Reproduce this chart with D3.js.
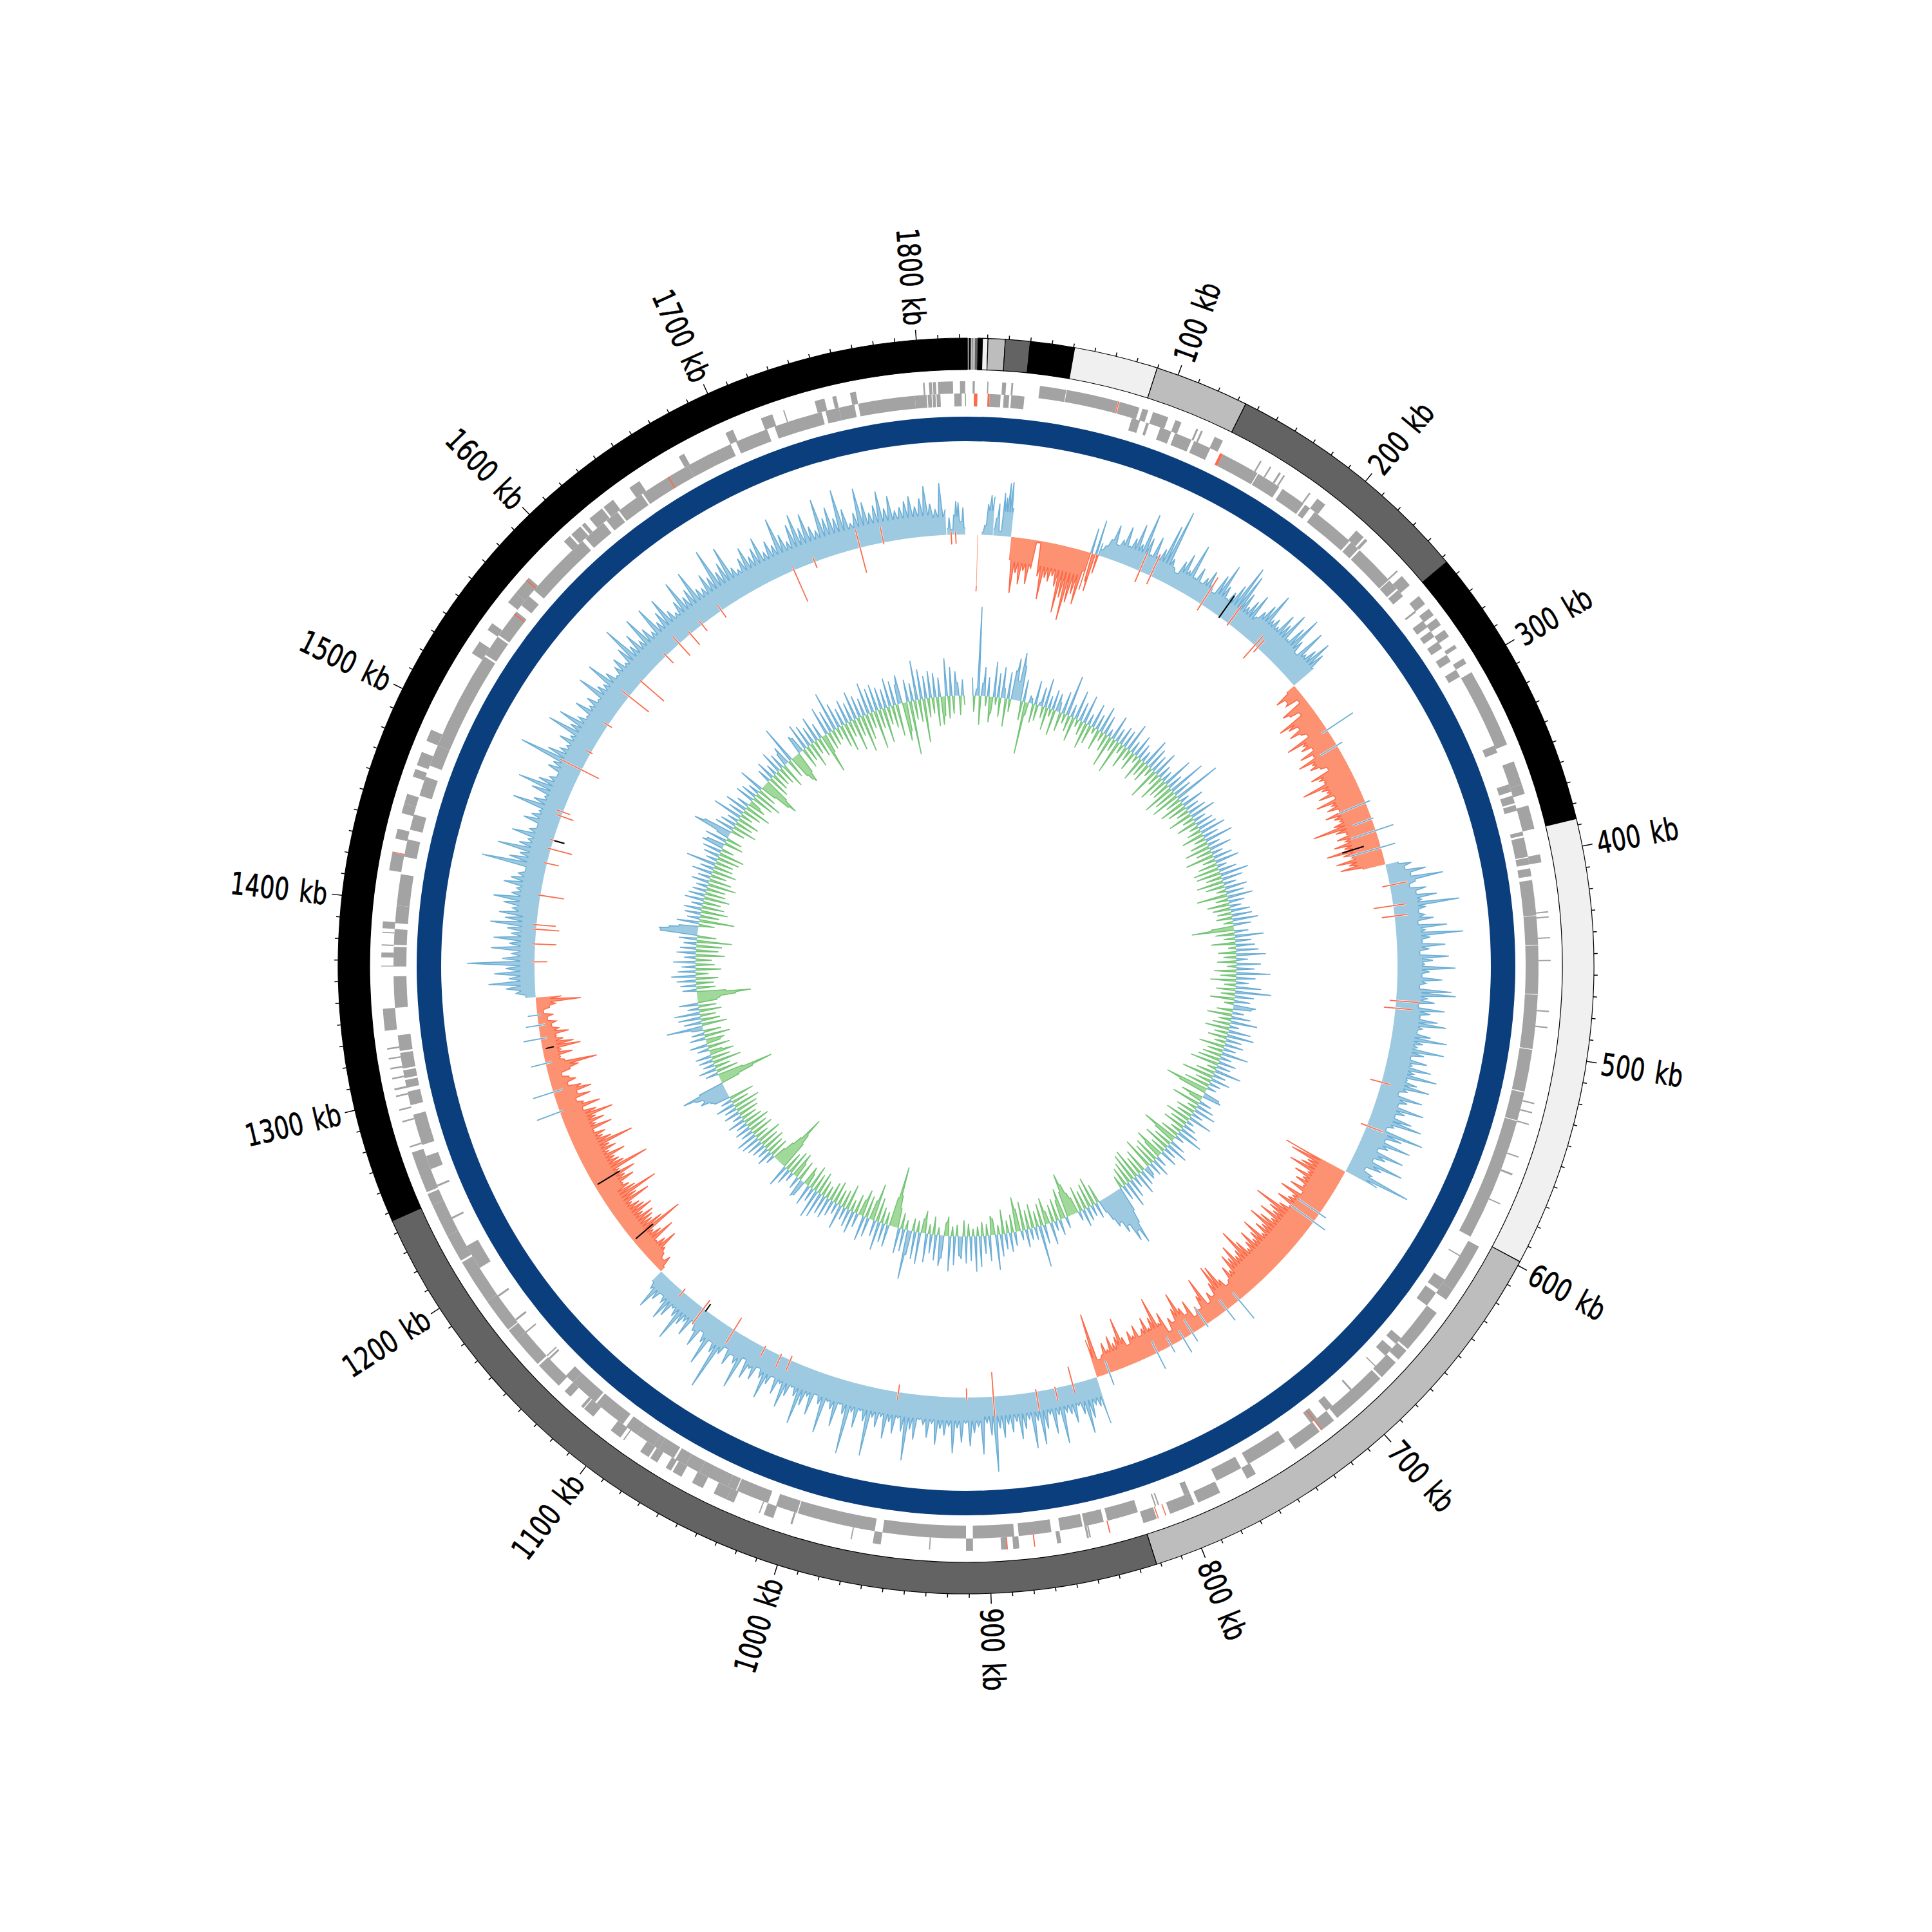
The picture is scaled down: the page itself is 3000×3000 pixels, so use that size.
<!DOCTYPE html>
<html><head><meta charset="utf-8">
<script src="https://cdnjs.cloudflare.com/ajax/libs/d3/7.8.5/d3.min.js"></script>
<style>html,body{margin:0;padding:0;background:#fff}svg{display:block}</style>
</head><body><svg id="c" width="3000" height="3000"></svg>
<script>
const genomeKb = 1823;
const tickLabels = ["100 kb","200 kb","300 kb","400 kb","500 kb","600 kb","700 kb","800 kb","900 kb","1000 kb","1100 kb","1200 kb","1300 kb","1400 kb","1500 kb","1600 kb","1700 kb","1800 kb"];
const contigStart = [0.5,0.7,1.0,1.3,2.3,3.0,3.2,4.2,5.6,7.65,10.2,18.2,29.8,50.5,89.8,134,253,387,598,822,1246];
const contigEnd   = [0.7,1.0,1.3,2.3,3.0,3.2,4.2,5.6,7.65,10.2,18.2,29.8,50.5,89.8,134,253,387,598,822,1246,1823.5];
const contigTone  = ["#f0f0f0","#000000","#bdbdbd","#000000","#bdbdbd","#000000","#bdbdbd","#636363","#000000","#f0f0f0","#bdbdbd","#636363","#000000","#f0f0f0","#bdbdbd","#636363","#000000","#f0f0f0","#bdbdbd","#636363","#000000"];

const genesInner = [[12,17.6],[19.2,22],[23,29.7],[85.3,89.7],[93,94.4],[100.5,106.5],[108.5,117.5],[119,128],[135,155],[155.5,168],[170,183],[184,187],[190,213],[214,219],[220,241],[241.5,247],[248,252],[261.5,262.5],[268,272],[274.5,278],[281,285],[289,293],[298,302],[341,345],[362,366],[368,372],[373,376],[387,389],[390,400],[400.5,404],[406,410],[412,430],[430.3,445],[445.3,470],[470.4,498],[498.4,520],[520.5,535],[535.4,598.6],[609.4,610],[624,630],[632,640],[661,665],[668,673],[680,680.6],[697,698],[710,714],[720,724],[740,762],[766,780],[795,798],[811.6,812.3],[813.2,813.9],[823,839],[841,851],[852,863.5],[868,884.7],[887,908],[911.5,954],[958,998],[998.5,1009.7],[1014,1031],[1031.5,1036],[1036,1052],[1052,1060],[1060,1066],[1067,1076],[1076,1079],[1079,1089],[1089,1096],[1098,1115],[1116,1131],[1131,1136],[1147.5,1148.5],[1149.5,1150.2],[1165.5,1166.3],[1173.5,1174.5],[1188.5,1189.5],[1206,1219],[1234.5,1235.5],[1252.5,1253.5],[1262,1269],[1275,1291],[1296,1303],[1305,1309],[1310,1314],[1315,1323],[1324,1332],[1346,1362],[1367,1377],[1378,1386],[1389,1398],[1398,1414],[1423,1432],[1437,1445],[1455,1465],[1471,1482],[1482,1533],[1534,1545],[1546,1561],[1565,1571],[1575,1606],[1605,1610],[1612,1624],[1626,1633],[1634,1648],[1649,1676],[1676,1700],[1703,1720],[1724,1749],[1751,1758],[1758,1766],[1768,1797],[1797,1803],[1803.5,1805.5],[1806,1807.5],[1808,1810],[1817,1820.8],[1822.5,1823]];
const genesOuter = [[3.3,4.4],[10.6,11.2],[18,20],[22.6,23.5],[36.8,50],[50.3,76.3],[77.2,87.4],[89,92],[94.5,102.5],[106.3,109.5],[117.5,118.5],[120,121],[127.5,132],[153,153.8],[158.6,159.4],[164,165],[166.6,167.4],[182,182.8],[187,192],[212,217],[218,219.5],[240.2,241],[244,250],[257,262],[265,269],[271,275],[278,282],[287,289],[295,298],[303,343],[352,364],[364,369],[375,387],[400,404],[428.5,429.2],[431,431.7],[441.4,442],[452.7,453.3],[478,478.7],[486,486.7],[524.3,525],[529,529.7],[535,535.7],[552,552.7],[561,562],[577,577.6],[601,626],[626,632],[640,663],[664,670],[672,682],[683,712],[714,722],[723,738],[761,766],[781,793],[795,808],[815,822],[849,849.7],[850,851],[864,866],[885,888],[891,894],[908,911.5],[929.3,929.9],[954,958],[968.6,969.2],[999,1000],[1009,1014],[1016,1016.6],[1030,1034],[1034,1041],[1047,1053],[1059,1064],[1065,1068],[1073,1077],[1078,1083],[1092.7,1093.3],[1095,1101],[1112,1118],[1118.5,1120],[1127,1131],[1135,1149],[1150,1166],[1166,1172],[1172.5,1190],[1190,1213],[1214,1228],[1228,1245],[1245,1251],[1252,1266],[1265,1273],[1275.6,1276.4],[1288.6,1289.4],[1294.6,1295.4],[1301.6,1302.4],[1305,1306],[1310.6,1311.4],[1315.6,1316.4],[1320.6,1321.4],[1325.6,1326.4],[1335,1346],[1367,1367.4],[1371.6,1374],[1377.4,1378],[1383.7,1384.3],[1386,1389.5],[1415,1424],[1431,1436],[1444,1449],[1449,1454],[1463,1467],[1469,1476],[1482,1488],[1531,1538],[1545,1549],[1562,1568],[1568,1578],[1603,1607],[1608,1614],[1615,1617],[1620,1628],[1629,1635],[1645,1651],[1674,1677],[1700,1704],[1719,1725],[1730.7,1731.3],[1747,1752],[1756,1758],[1765,1768],[1801.6,1802.4],[1804.5,1806],[1806.5,1808],[1809,1816.5],[1820,1822.6]];
const rnaInner = [[4,5.8],[11,12],[133.5,135],[721.5,722],[1559,1559.6],[1664,1664.6]];
const rnaOuter = [[76.4,77],[721.5,722],[810,810.5],[814,814.5],[839,839.6],[877,877.6],[890.7,891.2],[1424,1424.4],[1576,1576.6]];

const skewOrigin = [-88,-80];
const skewA = [4,15,48,62,60];
const skewB = [10,27,50,7,67,60,83,85,45];
const skewC = [-35,-87,-55,-72,-50,-70,-45,-3,-55,-90,-55,-60,-50,-65,-105,-80,-115,-85,-70,-85,-30];
const skewD = [-60,40,-45,-60,55,-30,20];
const skewE = [10,18,30,55,25,35,59,30,45,70,40,92,55,30,62,35,48,90,117,40,28,22,45,60,35,82,30,50,28,40,55,38,25,59,81,48,30,45,62,99,88,60,40,55,70,35,50,66,90,48,55,45,73,60,85,42,70,93,55,35,84,45,60,81,64,40];
const skewF = [-15,-40,-25,-30,-10,-45,-35,-20,-63,-50,-35,-55,-38,-30,-70,-45,-52,-35,-60,-40,-69,-48,-55,-40,-30,-62,-50,-45,-84,-55,-48,-65,-40,-73,-50,-60,-42,-67,-55,-48,-60,-95,-60,-45,-62,-50,-70,-55,-85,-60,-48,-74,-55,-70,-35];
const skewG = [20,40,28,60,35,85,40,30,55,38,70,45,103,50,38,47,60,35,80,45,104,52,40,75,50,35,80,55,42,90,50,38,70,45,35,85,92,48,60,35,77,55,40,68,82,45,38,60,87,50,42,85,55,35,62,40,71,45,83,38,55,76,42,30,70,48,35,78,50,36,65,83,40,30,92,60,35,79,45,30,75,48,30,82,50,25,40,105,55];
const skewH = [-104,-91,-60,-68,-85,-50,-70,-53,-62,-45,-65,-40,-75,-50,-55,-70,-45,-60,-99,-70,-60,-80,-55,-72,-87,-60,-68,-50,-83,-65,-55,-75,-60,-50,-70,-94,-62,-55,-78,-60,-69,-45,-55,-35,-30,-45,-72,-76,-50,-30,-40,-25,-72,-45,-25,-32,-20,-50,-30,-45,-73,-50,-30,-40,-20,-55,-40,-85,-55,-40,-60,-45,-35,-55,-40,-50,-30,-45,-78,-50,-40,-55,-35,-48,-30,-25,-100,-60];
const skewI = [75,45,40,60,82,50,35,60,45,40,88,42,70,38,60,83,45,87,40,55,70,42,58,45,65,50,117,60,40,89,45,55,76,40,70,48,87,45,60,50,75,42,65,45,38,70,55,104,60,40,65,48,75,42,60,45,108,55,40,68,45,113,52,38,75,50,40,92,48,35,70,42,60,92,50,38,55,76,40,60,35,50,76,45,32,55,40,60,30,83,45,35,55,30,45,108,50,35,79,45,30,60,38,28,55,35,45,77,40,30,50,60,35,25,40,60,30,20];
const skewJ = [-8,-25,-15,-23,-30,-56,-40,-28,-64,-45,-35,-90,-60,-45,-50,-55,-40,-60,-50,-45,-35,-69,-50,-89,-55,-48,-40,-62,-50,-70,-45,-98,-60,-55,-50,-70,-45,-60,-52,-93,-60,-48,-55,-38,-70,-45,-62,-50,-80,-55,-35,-65,-40,-30,-55,-35,-60,-45,-25,-40,-30,-20,-35,-50,-80,-30,-25,-45,-28,-60,-50,-35,-25,-45,-30,-20,-28,-15,-25,-10,-20,-30,-70,-40];
const skewK = [15,30,45,72,40,63,45,105,50,35,68,40,65,38,45,72,50,60,40,55,72,45,38,60,50,40,30,101,60,45,82,50,38,66,40,30,55,45,35,81,50,35,60,85,55,40,30,50,45,104,62,45,38,55,40,83,50,74,45,35,60,40,50,35,76,48,42,77,50,35,45,55,38,60,92,50,65,45,81,55,42,80,48,60,78,50,40,55,84,52,60,85,50,45,65,55,97,55,65,87,48,40,55,69,50,60,73,45,60,50,90,60,45,70,83,58,78,55,45,93,60,75,55,98,65,40,55,92,68,50,60,80,52,70,45,50,58,65,48,60,78,50,40,81,40];
const skewL = [10,27,8,30,52,50,20,42,10];
const skewRunStart = [7.7,10.5,18.3,30.5,84.5,91,250.7,387,600,822.3,1139.3,1346.3,1810.5];
const skewRunEnd   = [8.1,18,30.3,84.5,91,250.5,386.7,599.5,822,1139,1346,1809.8,1822.5];
const skewRuns = [skewOrigin,skewA,skewB,skewC,skewD,skewE,skewF,skewG,skewH,skewI,skewJ,skewK,skewL];
// solid band thickness per 100 kb
const skewBandDepth = [38,28,38,42,38,35,42,35,30,36,35,25,36,22,30,32,32,32,28];

const notchesOrange = [[120,31,-19],[128,37,-14],[167,49,-11],[189.5,34,-4],[212.6,20,-27],[215,16,-9],[401,28,-12],[415,20,-31],[422,20,-20],[479,37,-10],[484,26,-18],[534.8,15,-18],[565.6,28,-10],[839,14,-28],[851,20,-2],[864,30,-4],[893,32,-38],[911,5,-14],[957,12,-12],[1033,18,-7],[1040,20,-3],[1052,15,-3],[1076,25,-22],[1101,30,-16],[1119,10,-6],[1370,5,-20],[1382,5,-33],[1392,5,-36],[1395,5,-30],[1415,3,-37],[1437,5,-19],[1447,5,-34],[1453,5,-18],[1470,8,-20],[1473,10,-12],[1504,37,-30],[1517,8,-3],[1539,8,-7],[1563,15,-39],[1576,3,-46],[1600,5,-16],[1612,15,-25],[1622,5,-22],[1632,8,-13],[1648,10,-13],[1704,5,-53],[1719,8,-10],[1751,29,-40],[1767,25,-3],[1813,5,-15],[1816,5,-14]];
const notchesBlue = [[287.6,48,-10],[300,10,-30],[343,8,-45],[354.6,3,-31],[363,29,-40],[374.9,23,-50],[633,12,-40],[639.7,22,-45],[712.6,37,-15],[723,21,-20],[740,5,-30],[751,15,-25],[758,25,-15],[767.6,12,-15],[778,28,-20],[813,20,-20],[1267,38,-6],[1281,33,-15],[1301,23,-10],[1318,27,-10],[1327,20,-10],[1334,15,-5]];
const notchesBlack = [[182,40,-2],[371,-25,-60],[1099,2,-12],[1167,-5,-40],[1212,-5,-45],[1311,-5,-18],[1453,-2,-18]];

const gcA = [28,-25,10,138,-45,20,45,-15,30,-40,-25,55,-12,38,-30,48,15,-44,42,-20,45,65,30,75,55,-30,35,-82,-20,12,8,-30,38,-25,5,30,-18,46,-35,20,-12,32,-40,28];
const gcB = [15,-30,35,-15,64,-25,20,-38,46,-12,30,-22,45,-41,18,-30,38,-10,25,-33,42,-15,30,-28,12,-50,39,-20,22,-53,30,-15,28,-35,45,-18,20,-30,35,-12];
const gcC = [25,-38,18,-25,45,-30,35,-15,28,-50,40,-20,22,-42,18,-30,49,-28,25,-50,60,-35,30,-45,75,-25,15,-40,35,-31,22,-20,30,-38,41,-18,20,-32,28,-15];
const gcD = [30,-22,41,-35,25,-18,45,-28,20,-40,35,-25,18,-45,30,-20,38,-30,15,-40,28,-38,45,-25,33,-42,20,-30,35,-15,28,-48,40,-20,25,-35,18,-28,30,-22];
const gcE = [32,-25,40,-15,28,-35,-66,22,-30,45,-18,25,-38,30,-12,35,-28,46,-20,18,-30,38,-15,28,-35,53,-25,30,-40,20,-18,40,-30,56,-22,30,-38,25,-15,35];
const gcF = [28,-25,18,-39,30,-20,42,-28,15,-38,35,-22,42,-30,25,-18,30,-40,20,-25,42,-30,18,-35,28,-45,22,-15,42,-30,20,-50,30,-25,18,-40,15,-68,-45,25];
const gcG = [30,-35,-20,20,-45,28,-15,35,-30,18,-25,38,-40,12,-28,20,-35,30,-18,42,-30,15,-58,-35,25,-30,35,-42,20,-25,28,-48,-30,18,-40,30,-35,22,-50,15];
const gcH = [20,-38,25,-30,35,-48,18,-45,30,-35,42,-30,25,-20,40,60,93,70,85,55,65,45,50,35,20,-30,25,-45,18,-38,22,-30,28,-40,15,-25,-35,-50,-69,-40];
const gcI = [18,-48,-30,25,-35,15,-28,35,-20,-42,30,-35,65,-25,20,-38,18,-30,28,-45,15,-35,-54,22,-28,30,-20,25,-38,35,-15,55,-25,-30,40,-18,28,-22,48,-15];
const gcJ = [55,-12,38,-20,42,-25,35,30,-18,45,-15,55,-30,-20,35,48,-12,40,-28,30,-15,45,-35,-22,50,-18,43,-20,38,77,-15,35,-25,40,-30,-50,-95,-45,35,-20];
const gcK = [30,-25,45,-38,25,-58,-30,30,-35,39,-42,-25,22,-30,35,-18,28,-40,20,-28,39,-25,18,-35,25,-30,33,-20,30,-25,40,-35,45,-28,22,-38,33,-20,-30,25];
const gcL = [28,-32,20,-25,-40,15,-38,25,-30,35,-45,-60,-88,-50,-35,-20,15,-30,25,-28,18,-35,22,-30,25,-40,30,-22,33,-35,20,-30,25,-38,18,-30,28,-25,15,-32];
const gcM = [25,-35,20,-42,30,-28,18,-40,25,30,45,38,50,69,40,-30,-55,-88,-40,20,-35,28,-25,18,-45,22,-30,25,-38,-20,18,-35,28,-22,-30,25,-40,20,-28,18];
const gcN = [57,-40,28,-30,35,-25,40,-35,18,-28,30,-30,-35,-60,-84,-45,22,-30,25,-28,30,-35,38,-20,28,-40,22,-30,35,-25,18,-45,30,-35,25,-40,20,-55,28,-30];
const gcO = [58,60,45,30,-25,35,-55,20,-30,25,-42,28,-35,18,-28,30,-40,26,-32,22,-30,18,-45,28,-35,20,-25,32,-38,22,-30,47,-28,18,-35,25,-40,30,-20,35];
const gcP = [28,-30,35,-25,20,61,45,-22,30,-38,25,-28,18,-35,47,-20,25,-30,35,-42,20,-28,-18,30,-35,25,-45,18,-30,40,-25,-50,-62,-40,22,-35,30,-28,18,-25];
const gcQ = [35,-28,25,-40,20,30,-30,59,-35,-45,-51,-35,30,25,-32,42,-25,35,-40,28,-22,40,-30,25,-62,-30,45,-28,35,-25,62,-20,40,-35,28,-45,38,-25,30,-50];
const gcR = [45,-30,35,-58,28,-40,50,-25,38,-60,42,-30,35,-55,30,-28,45,-35,38,-50,30,45,-60,-45,35,-84,28,-30,62,-35,47,-68,35,-30,42,-25,38,-45,30,-44,-30,59,-35,45,-28,38,20,-30,25,-15];
const gcRunStart = [5.5,100,200,300,400,500,600,700,800,900,1000,1100,1200,1300,1400,1500,1600,1700];
const gcRunEnd   = [100,200,300,400,500,600,700,800,900,1000,1100,1200,1300,1400,1500,1600,1700,1823];
const gcRuns = [gcA,gcB,gcC,gcD,gcE,gcF,gcG,gcH,gcI,gcJ,gcK,gcL,gcM,gcN,gcO,gcP,gcQ,gcR];

const svg = d3.select("#c");
const root = svg.append("g").attr("transform","translate(1500,1500)");
const ang = d3.scaleLinear().domain([0,genomeKb]).range([0,2*Math.PI]);
const C = {ring:"#0a3e7d",gene:"#a3a3a3",rna:"#fb6a4a",orangeFill:"#fc9272",orangeLine:"#fb6a4a",blueFill:"#9ecae1",blueLine:"#6baed6",greenFill:"#a1d99b",greenLine:"#74c476"};
const arc = d3.arc();

root.append("g").selectAll("path").data(contigStart.map((s,i)=>({s,e:contigEnd[i],c:contigTone[i]}))).join("path")
  .attr("d",d=>arc({innerRadius:926,outerRadius:975,startAngle:ang(d.s),endAngle:ang(d.e)}))
  .attr("fill",d=>d.c)
  .attr("stroke",d=>d.e-d.s<1.5?"none":"#000").attr("stroke-width",1.2);

const ticks = d3.range(10,genomeKb,10);
root.append("g").selectAll("line").data(ticks).join("line")
  .each(function(k){
    const a=ang(k), major=k%100===0, r1=975, r2=major?991:981;
    d3.select(this).attr("x1",r1*Math.sin(a)).attr("y1",-r1*Math.cos(a)).attr("x2",r2*Math.sin(a)).attr("y2",-r2*Math.cos(a));
  }).attr("stroke","#000").attr("stroke-width",1.5);

root.append("g").selectAll("text").data(tickLabels).join("text")
  .text(d=>d)
  .each(function(d){
    const k=parseFloat(d), a=ang(k), deg=a*180/Math.PI, r=998, right=deg<180;
    d3.select(this)
      .attr("transform",`translate(${r*Math.sin(a)},${-r*Math.cos(a)}) rotate(${right?deg-90:deg+90}) scale(0.75,1)`)
      .attr("text-anchor",right?"start":"end").attr("dy","0.36em");
  })
  .attr("font-family","'DejaVu Sans'").attr("font-size",48).attr("word-spacing",6).attr("fill","#000")
  .attr("stroke","#000").attr("stroke-width",0.7);

function genes(list,r0,r1,color){
  root.append("g").selectAll("path").data(list).join("path")
    .attr("d",d=>arc({innerRadius:r0,outerRadius:r1,startAngle:ang(d[0]),endAngle:ang(d[1])}))
    .attr("fill",color);
}
genes(genesInner,869,889,C.gene);
genes(genesOuter,889,908,C.gene);
genes(rnaInner,869,889,C.rna);
genes(rnaOuter,889,908,C.rna);

root.append("path").attr("d",arc({innerRadius:815,outerRadius:853,startAngle:0,endAngle:2*Math.PI})).attr("fill",C.ring);

// Each value is drawn as a peak; between two peaks the outline falls back to the
// solid band (same sign) or to the baseline (opposite sign).
function outline(pts,cap,tight){
  const out=[];
  pts.forEach((p,i)=>{
    out.push({k:p.k,v:p.v,flat:false});
    const q=pts[i+1];
    if(!q) return;
    const gap=q.k-p.k;
    const same=p.v*q.v>0;
    const floor=same?Math.sign(p.v)*Math.min(Math.abs(p.v),Math.abs(q.v),cap(p.k)):0;
    out.push({k:p.k+tight*gap,v:floor,flat:true});
    out.push({k:q.k-tight*gap,v:floor,flat:true});
  });
  return out;
}
function track(base,pts,cap,tight,posFill,posLine,negFill,negLine){
  const rad=d3.scaleLinear().domain([-100,100]).range([base-100,base+100]);
  const g=root.append("g");
  const shape=outline(pts,cap,tight);
  const closed=[{k:pts[0].k,v:0},...shape,{k:pts[pts.length-1].k,v:0}];
  const area=f=>d3.areaRadial().angle(d=>ang(d.k)).innerRadius(rad(0)).outerRadius(d=>rad(f(d.v)))(closed);
  g.append("path").attr("d",area(v=>Math.max(v,0))).attr("fill",posFill);
  g.append("path").attr("d",area(v=>Math.min(v,0))).attr("fill",negFill);
  const lineGen=d3.lineRadial().angle(d=>ang(d.k)).radius(d=>rad(d.v));
  const flanks=sign=>{
    const groups=[]; let cur=[];
    shape.forEach((p,i)=>{
      const prev=shape[i-1];
      if(p.v*sign<0 || (prev&&prev.flat&&p.flat)){ if(cur.length>1) groups.push(cur); cur=[]; }
      if(p.v*sign>=0) cur.push(p);
    });
    if(cur.length>1) groups.push(cur);
    return groups.map(lineGen).join("");
  };
  g.append("path").attr("d",flanks(1)).attr("fill","none").attr("stroke",posLine).attr("stroke-width",1.6);
  g.append("path").attr("d",flanks(-1)).attr("fill","none").attr("stroke",negLine).attr("stroke-width",1.6);
}
const place=(s,e,vals)=>vals.map((v,i)=>({k:s+i*(e-s)/Math.max(1,vals.length-1),v}));
const bandAt=k=>skewBandDepth[Math.min(skewBandDepth.length-1,Math.floor(k/100))];

skewRuns.forEach((vals,i)=>track(670,place(skewRunStart[i],skewRunEnd[i],vals),i===0?(()=>100):bandAt,0.46,C.blueFill,C.blueLine,C.orangeFill,C.orangeLine));
const radOuter=d3.scaleLinear().domain([-100,100]).range([570,770]);
function notches(list,color,width){
  const l=d3.lineRadial().angle(d=>ang(d[0])).radius(d=>radOuter(d[1]));
  const g=root.append("g");
  const seg=d=>l([[d[0],d[1]],[d[0]+0.2,d[2]]]);
  if(color!=="#000"){
    g.selectAll("path.w").data(list).join("path").attr("class","w").attr("d",seg).attr("stroke","#fff").attr("stroke-width",3).attr("fill","none");
  }
  g.selectAll("path.c").data(list).join("path").attr("class","c").attr("d",seg).attr("stroke",color).attr("stroke-width",width).attr("fill","none");
}
notches(notchesOrange,C.orangeLine,1.8);
notches(notchesBlue,C.blueLine,1.8);
notches(notchesBlack,"#000",2);

const gcPts = gcRuns.flatMap((vals,i)=>{
  const s=gcRunStart[i], e=gcRunEnd[i];
  return vals.map((v,j)=>({k:s+(j+0.5)*(e-s)/vals.length,v}));
});
track(420,gcPts,()=>100,0.44,C.blueFill,C.blueLine,C.greenFill,C.greenLine);
</script></body></html>
